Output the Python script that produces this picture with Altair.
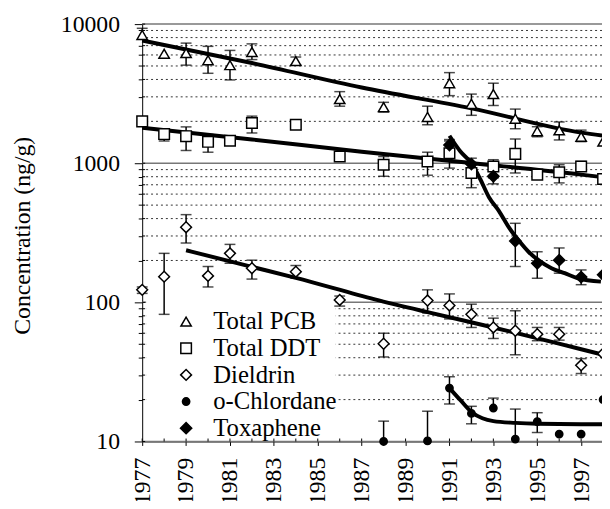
import altair as alt
import pandas as pd

# ---------------- data ----------------
series_names = ["Total PCB", "Total DDT", "Dieldrin", "o-Chlordane", "Toxaphene"]

pcb_years = [1977, 1978, 1979, 1980, 1981, 1982, 1984, 1986, 1988, 1990, 1991, 1992, 1993, 1994, 1995, 1996, 1997, 1998]
pcb_vals = [8360, 6120, 6190, 5500, 5070, 6300, 5420, 2890, 2530, 2150, 3760, 2670, 3140, 2090, 1700, 1725, 1550, 1430]
pcb_hi = [9330, None, 7300, 6920, 6470, 7210, 5800, 3270, 2740, 2570, 4480, 3140, 3760, 2450, 1830, 1980, 1730, None]
pcb_lo = [None, 5750, 5070, 4430, 3970, 5560, 5100, 2570, 2330, 1890, 3060, 2210, 2600, 1770, 1550, 1470, 1430, None]

ddt_years = [1977, 1978, 1979, 1980, 1981, 1982, 1984, 1986, 1988, 1990, 1991, 1992, 1993, 1994, 1995, 1996, 1997, 1998]
ddt_vals = [2000, 1620, 1565, 1425, 1450, 1945, 1890, 1117, 975, 1030, 1180, 851, 948, 1167, 828, 861, 948, 771]
ddt_hi = [2150, None, 1825, 1610, None, 2180, None, None, 1117, 1200, 1445, 1087, 1060, 1493, None, 975, 1030, None]
ddt_lo = [None, 1445, 1235, 1200, None, 1650, None, None, 806, 820, 922, 667, 785, 851, None, 722, None, None]

die_years = [1977, 1978, 1979, 1980, 1981, 1982, 1984, 1986, 1988, 1990, 1991, 1992, 1993, 1994, 1995, 1996, 1997, 1998]
die_vals = [123, 153, 347, 155, 225, 176, 166, 104, 50.4, 103, 95, 82, 66, 62.5, 59, 59, 35.3, 42.8]
die_hi = [129, 225, 427, 181, 261, 201, 184, 111, 60, 123, 115, 97, 77, 87, 66, 66, 39.4, None]
die_lo = [116, 82, 267, 129, 191, 147, 149, 94, 40.5, 84, 76, 66, 55, 42, 53, 53.5, 30.8, None]

chl_years = [1988, 1990, 1991, 1992, 1993, 1994, 1995, 1996, 1997, 1998]
chl_vals = [10.0, 10.1, 24.2, 15.9, 17.4, 10.4, 13.9, 11.3, 11.3, 20.0]
chl_hi = [14.0, 16.5, 29.2, 17.9, 20.5, 17.1, 16.1, None, None, None]
chl_lo = [None, None, 18.6, 13.4, None, None, 11.6, None, None, None]

tox_years = [1991, 1992, 1993, 1994, 1995, 1996, 1997, 1998]
tox_vals = [1352, 986, 806, 276, 191, 201, 152, 158]
tox_hi = [1480, None, 875, 370, 231, 246, 171, None]
tox_lo = [None, None, 711, 181, 149, 162, 134, None]

# fitted curves
pcb_fit_years = [1977, 1982, 1987, 1992, 1997, 1998]
pcb_fit_vals = [7620, 5250, 3500, 2480, 1660, 1580]
ddt_fit_years = [1977, 1982, 1987, 1992, 1997, 1998]
ddt_fit_vals = [1800, 1483, 1210, 1003, 828, 793]
die_fit_years = [1979, 1982, 1984, 1987.6, 1990, 1993, 1997, 1998]
die_fit_vals = [237, 180, 150, 105, 85, 66, 46, 42]
chl_fit_years = [1991, 1991.5, 1992, 1992.5, 1993, 1994, 1995, 1997, 1998]
chl_fit_vals = [24.2, 19.8, 16.3, 14.7, 14.0, 13.6, 13.4, 13.3, 13.3]
tox_fit_years = [1991, 1991.5, 1992, 1992.4, 1992.8, 1993.25, 1993.7, 1994.15, 1994.6, 1995.05, 1995.65, 1996.25, 1996.85, 1997.9]
tox_fit_vals = [1575, 1213, 1000, 770, 570, 455, 347, 279, 231, 201, 176, 162, 149, 141]

# axis tick values
year_ticks = list(range(1977, 1998))
major_y = [10, 100, 1000, 10000]
minor_y = [m * d for d in (10, 100, 1000) for m in range(2, 10)]

# ---------------- tables ----------------
raw = [
    ("Total PCB", pcb_years, pcb_vals, pcb_hi, pcb_lo),
    ("Total DDT", ddt_years, ddt_vals, ddt_hi, ddt_lo),
    ("Dieldrin", die_years, die_vals, die_hi, die_lo),
    ("o-Chlordane", chl_years, chl_vals, chl_hi, chl_lo),
    ("Toxaphene", tox_years, tox_vals, tox_hi, tox_lo),
]
pts, bars, caps = [], [], []
for name, ys, vs, his, los in raw:
    for y, v, h, l in zip(ys, vs, his, los):
        pts.append({"series": name, "year": y, "value": v})
        top = h if h is not None else v
        bot = l if l is not None else v
        if top != bot:
            bars.append({"series": name, "year": y, "lo": bot, "hi": top})
        if h is not None:
            caps.append({"series": name, "year": y, "cap": h})
        if l is not None:
            caps.append({"series": name, "year": y, "cap": l})
pts = pd.DataFrame(pts)
bars = pd.DataFrame(bars)
caps = pd.DataFrame(caps)

fits = []
for name, ys, vs in [
    ("Total PCB", pcb_fit_years, pcb_fit_vals),
    ("Total DDT", ddt_fit_years, ddt_fit_vals),
    ("Dieldrin", die_fit_years, die_fit_vals),
    ("o-Chlordane", chl_fit_years, chl_fit_vals),
    ("Toxaphene", tox_fit_years, tox_fit_vals),
]:
    for y, v in zip(ys, vs):
        fits.append({"series": name, "year": y, "value": v})
fits = pd.DataFrame(fits)

grid_minor = pd.DataFrame({"v": minor_y})
grid_major = pd.DataFrame({"v": major_y})
all_y = pd.DataFrame({"v": minor_y + major_y})
yrs = pd.DataFrame({"year": year_ticks})

FONT = "Liberation Serif"
W, H = 466, 423

xscale = alt.Scale(domain=[1977, 1997.95], nice=False, zero=False)
yscale = alt.Scale(type="log", domain=[10, 10000], nice=False)

is_major = "indexof([10,100,1000,10000], datum.value) >= 0"

x_axis = alt.Axis(
    values=year_ticks, labelExpr="datum.value % 2 == 1 ? toString(datum.value) : ''",
    labelAngle=270, labelFont=FONT, labelFontSize=24, labelColor="black",
    labelOverlap=False, labelFlush=False, labelPadding=12,
    tickSize=4, tickColor="black", domainColor="black", grid=False, title=None,
)
y_axis = alt.Axis(
    values=minor_y + major_y,
    labelExpr=is_major + " ? format(datum.value, 'd') : ''",
    labelFont=FONT, labelFontSize=24, labelColor="black",
    labelOverlap=False, labelFlush=False, labelPadding=15,
    tickSize={"condition": {"test": is_major, "value": 8}, "value": 4},
    tickColor="black", domainColor="black", grid=False,
    title="Concentration (ng/g)", titleFont=FONT, titleFontSize=24,
    titleFontWeight="normal", titleColor="black",
    titleX=-121, titleY=214, titleAngle=270, titleBaseline="middle",
)

gminor = alt.Chart(grid_minor).mark_rule(color="#333", strokeWidth=1, strokeDash=[2, 3]).encode(
    y=alt.Y("v:Q", scale=yscale, axis=y_axis)
)
gmajor = alt.Chart(grid_major).mark_rule(color="#777", strokeWidth=1.5).encode(
    y=alt.Y("v:Q", scale=yscale)
)
white = alt.Chart(pd.DataFrame({"a": [0]})).mark_rect(color="white").encode(
    x=alt.value(4), x2=alt.value(196), y=alt.value(278), y2=alt.value(421)
)
ytick_in = alt.Chart(all_y).mark_rule(color="black", strokeWidth=1).encode(
    y=alt.Y("v:Q", scale=yscale), x=alt.value(0), x2=alt.value(3)
)
xtick_in = alt.Chart(yrs).mark_rule(color="black", strokeWidth=1).encode(
    x=alt.X("year:Q", scale=xscale, axis=x_axis), y=alt.value(H - 3), y2=alt.value(H)
)
stems = alt.Chart(bars).mark_rule(color="black", strokeWidth=1.5).encode(
    x=alt.X("year:Q", scale=xscale), y=alt.Y("lo:Q", scale=yscale), y2="hi:Q"
)
capm = alt.Chart(caps).mark_tick(color="black", orient="horizontal", size=11, thickness=1.5).encode(
    x=alt.X("year:Q", scale=xscale), y=alt.Y("cap:Q", scale=yscale)
)
lines = alt.Chart(fits).mark_line(color="black", strokeWidth=4, interpolate="monotone").encode(
    x=alt.X("year:Q", scale=xscale), y=alt.Y("value:Q", scale=yscale), detail="series:N"
)
leg = alt.Legend(
    title=None, orient="none", legendX=32, legendY=289, labelFont=FONT,
    labelFontSize=25, labelColor="black",
    symbolStrokeWidth=1.5, labelOffset=15, rowPadding=1, padding=0,
)
points = alt.Chart(pts).mark_point(filled=True, strokeWidth=1.5, opacity=1, fillOpacity=1).encode(
    x=alt.X("year:Q", scale=xscale),
    y=alt.Y("value:Q", scale=yscale),
    shape=alt.Shape("series:N", scale=alt.Scale(domain=series_names,
                    range=["triangle-up", "square", "diamond", "circle", "diamond"]), legend=leg),
    fill=alt.Fill("series:N", scale=alt.Scale(domain=series_names,
                  range=["white", "white", "white", "black", "black"]), legend=leg),
    stroke=alt.Stroke("series:N", scale=alt.Scale(domain=series_names,
                      range=["black", "black", "black", "black", "black"]), legend=leg),
    size=alt.Size("series:N", scale=alt.Scale(type="ordinal", domain=series_names,
                  range=[110, 115, 120, 55, 130]), legend=leg),
)

chart = alt.layer(gminor, gmajor, white, ytick_in, xtick_in, stems, capm, lines, points).properties(
    width=W, height=H,
    autosize=alt.AutoSizeParams(type="none"),
    padding={"left": 136, "top": 13, "right": 0, "bottom": 57},
    background="white",
).configure_view(stroke=None)

chart.save("out.html", embed_options={"renderer": "svg", "actions": False})
